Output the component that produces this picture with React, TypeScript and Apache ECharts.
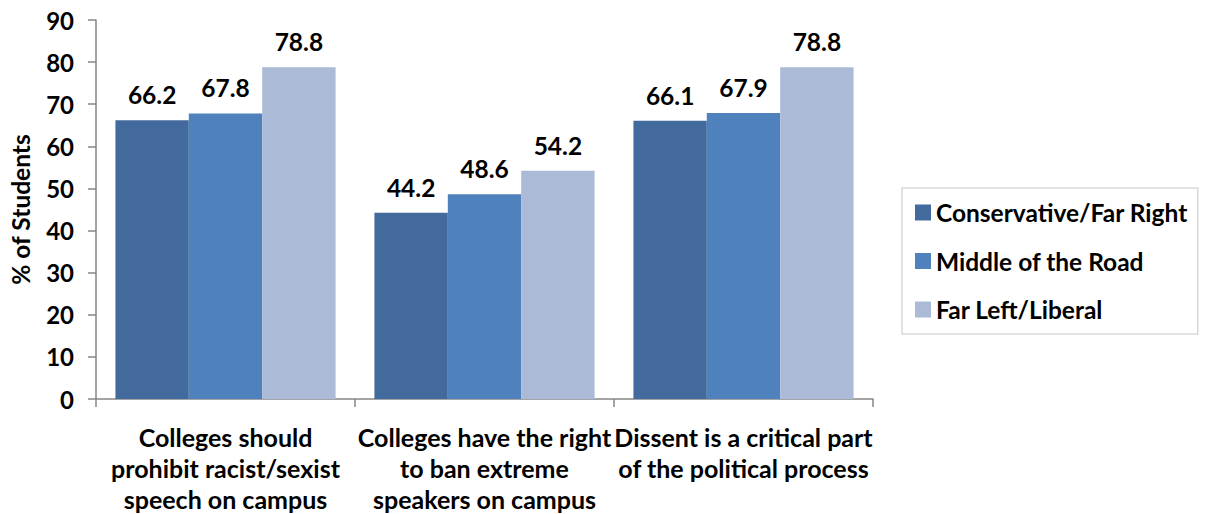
import React, { useEffect, useRef } from "react";
import * as echarts from "echarts";

const categories = [
  "Colleges should\nprohibit racist/sexist\nspeech on campus",
  "Colleges have the right\nto ban extreme\nspeakers on campus",
  "Dissent is a critical part\nof the political process",
];
const conservative = [66.2, 44.2, 66.1];
const middle = [67.8, 48.6, 67.9];
const liberal = [78.8, 54.2, 78.8];
const seriesNames = ["Conservative/Far Right", "Middle of the Road", "Far Left/Liberal"];
const colors = ["#426A9C", "#4F81BD", "#AABAD7"];

const FONT = "Lato, 'Open Sans', sans-serif";

export default function App() {
  const ref = useRef<HTMLDivElement>(null);

  useEffect(() => {
    document.body.style.margin = "0";
    if (!ref.current) return;
    const chart = echarts.init(ref.current, null, { renderer: "svg" });
    const values = [conservative, middle, liberal];
    chart.setOption({
      animation: false,
      backgroundColor: "#ffffff",
      textStyle: { fontFamily: FONT, fontWeight: "bold", color: "#000" },
      grid: { left: 93, top: 20, width: 780, height: 379, containLabel: false },
      legend: {
        orient: "vertical",
        left: 902,
        top: 188,
        padding: [12, 10, 12, 13],
        itemGap: 23.5,
        itemWidth: 16,
        itemHeight: 16,
        borderColor: "#d9d9d9",
        borderWidth: 1.5,
        icon: "rect",
        textStyle: {
          fontFamily: FONT,
          fontWeight: "bold",
          fontSize: 24.5,
          lineHeight: 24,
          color: "#000",
        },
        data: seriesNames,
      },
      xAxis: {
        type: "category",
        data: categories,
        axisLine: { lineStyle: { color: "#868686", width: 1.5 } },
        axisTick: { show: true, length: 8, lineStyle: { color: "#868686", width: 1.5 } },
        axisLabel: {
          interval: 0,
          margin: 22,
          fontFamily: FONT,
          fontWeight: "bold",
          fontSize: 25,
          lineHeight: 31,
          color: "#000",
        },
      },
      yAxis: {
        type: "value",
        min: 0,
        max: 90,
        interval: 10,
        name: "% of Students",
        nameLocation: "middle",
        nameGap: 63,
        nameRotate: 90,
        nameTextStyle: { fontFamily: FONT, fontWeight: "bold", fontSize: 24.5, color: "#000" },
        axisLine: { show: true, lineStyle: { color: "#868686", width: 1.5 } },
        axisTick: { show: true, length: 8, inside: false, lineStyle: { color: "#868686", width: 1.5 } },
        splitLine: { show: false },
        axisLabel: {
          margin: 22,
          fontFamily: FONT,
          fontWeight: "bold",
          fontSize: 24,
          color: "#000",
        },
      },
      series: seriesNames.map((name, i) => ({
        name,
        type: "bar",
        data: values[i],
        barGap: "0%",
        barCategoryGap: "15%",
        itemStyle: { color: colors[i] },
        label: {
          show: true,
          position: "top",
          distance: 13,
          fontFamily: FONT,
          fontWeight: "bold",
          fontSize: 24.5,
          color: "#000",
          formatter: (p: any) => p.value.toFixed(1),
        },
      })),
    });
    return () => chart.dispose();
  }, []);

  return <div ref={ref} style={{ width: 1206, height: 514 }} />;
}
